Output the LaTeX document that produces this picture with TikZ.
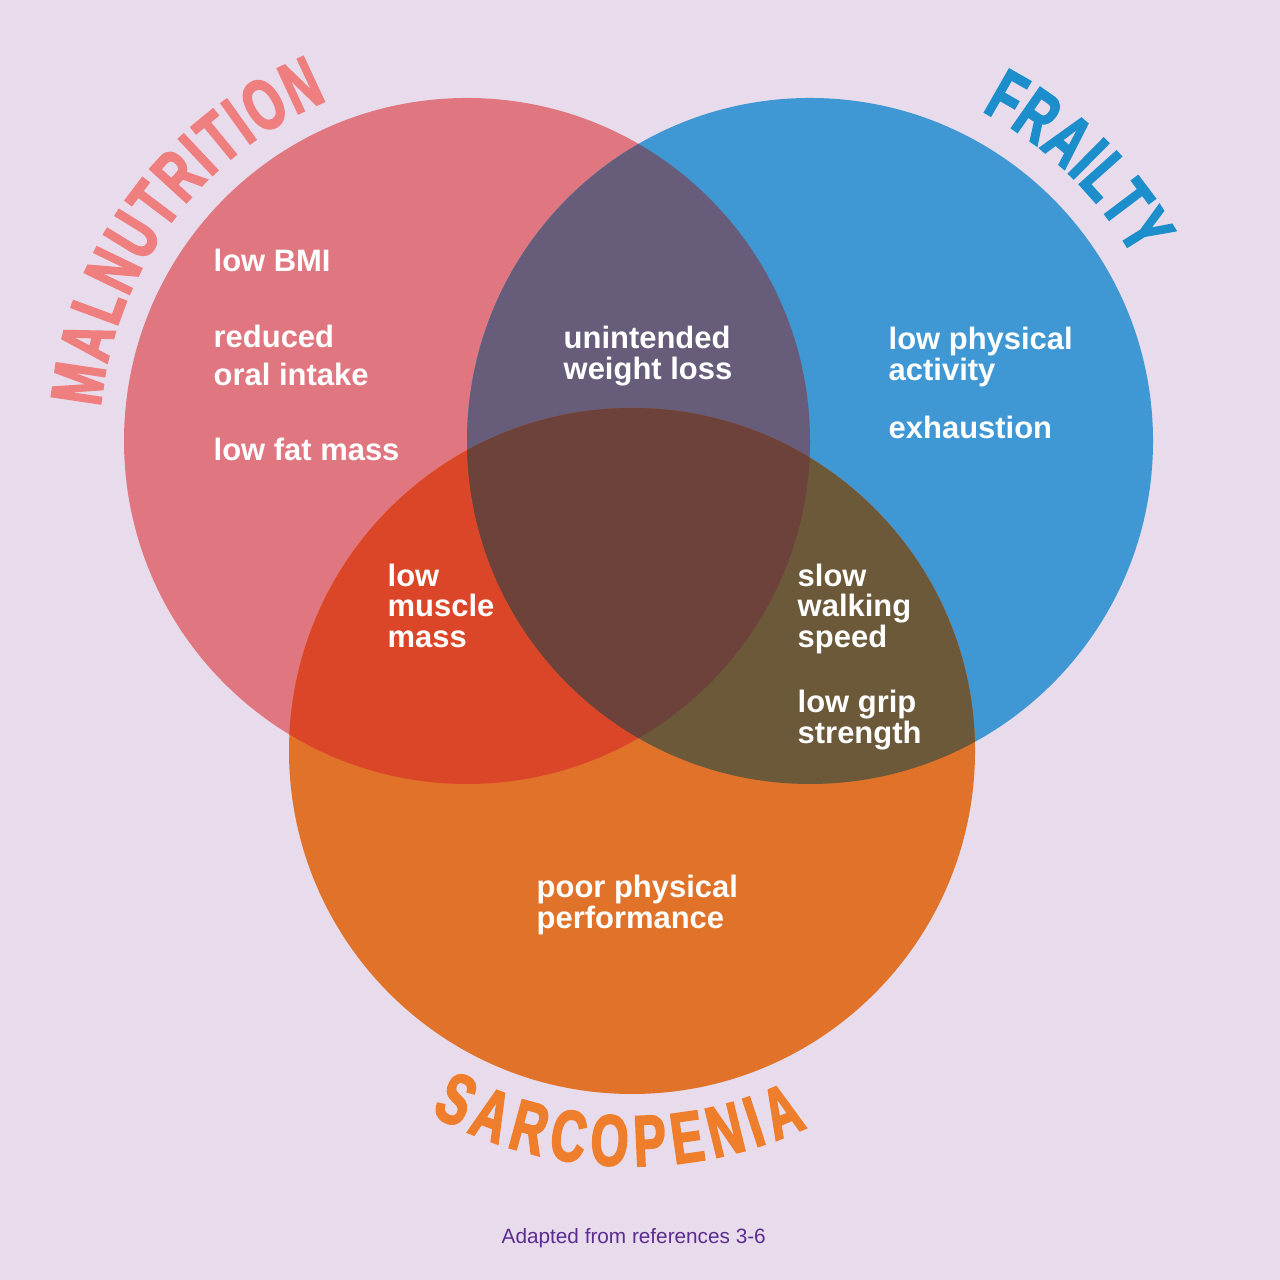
\documentclass[tikz,border=0pt]{standalone}
\usepackage{fontspec}
\setmainfont{Liberation Sans}
\newfontfamily\headfont[FakeStretch=0.67, FakeBold=2.6]{Liberation Sans Bold}
\usetikzlibrary{decorations.text}
\definecolor{PageLilac}{HTML}{E8DCEC}
\definecolor{MalFill}{HTML}{E07780}
\definecolor{FraFill}{HTML}{3F97D3}
\definecolor{SarFill}{HTML}{E07229}
\definecolor{MalFra}{HTML}{675D7B}
\definecolor{MalSar}{HTML}{DC4628}
\definecolor{FraSar}{HTML}{6B593A}
\definecolor{AllThree}{HTML}{6D423A}
\definecolor{MalHead}{HTML}{EF7E7E}
\definecolor{FraHead}{HTML}{1C8ECB}
\definecolor{SarHead}{HTML}{EE7E2B}
\definecolor{CreditPurple}{HTML}{5B2C8F}
\newcommand{\headtext}{\headfont\fontsize{20.5}{20.5}\selectfont}

\begin{document}
\begin{tikzpicture}[
    x=0.01cm, y=0.01cm,
    feature/.style={anchor=north west, inner sep=0pt, align=left, text=white, font=\bfseries\fontsize{8.8}{9}\selectfont},
    heading/.style={decorate, decoration={text along path, text align=fit to path, text color=#1}},
    credit/.style={anchor=north west, inner sep=0pt, text=CreditPurple, font=\fontsize{5.9}{7}\selectfont}
]

\fill[PageLilac] (0,0) rectangle (1280,1280);
\useasboundingbox (0,0) rectangle (1280,1280);

\coordinate (mal) at (467,839);
\coordinate (fra) at (810,839);
\coordinate (sar) at (632,529);

\fill[MalFill] (mal) circle (343);
\fill[FraFill] (fra) circle (343);
\fill[SarFill] (sar) circle (343);

\begin{scope}
  \clip (mal) circle (343);
  \fill[MalFra] (fra) circle (343);
  \fill[MalSar] (sar) circle (343);
\end{scope}
\begin{scope}
  \clip (fra) circle (343);
  \fill[FraSar] (sar) circle (343);
\end{scope}
\begin{scope}
  \clip (mal) circle (343);
  \clip (fra) circle (343);
  \fill[AllThree] (sar) circle (343);
\end{scope}

\path[heading=MalHead, decoration={text={|\headtext|MALNUTRITION}}]
  ([shift={(174.7:368)}]mal) arc[start angle=174.7, end angle=112.3, radius=368];
\path[heading=FraHead, decoration={text={|\headtext|FRAILTY}}]
  ([shift={(62.5:372)}]fra) arc[start angle=62.5, end angle=29.5, radius=372];
\path[heading=SarHead, decoration={text={|\headtext|SARCOPENIA}}]
  ([shift={(-119:415)}]sar) arc[start angle=-119, end angle=-65, radius=415];

\node[feature] (bmi) at (213,1032) {low BMI};
\node[feature] (intake) at (213,956) {reduced\\[2pt]oral intake};
\node[feature] (fat) at (213,843) {low fat mass};
\node[feature] (weight) at (563,955) {unintended\\weight loss};
\node[feature] (activity) at (888,954) {low physical\\activity};
\node[feature] (exhaust) at (888,865) {exhaustion};
\node[feature] (muscle) at (387,717) {low\\[-0.3pt]muscle\\[-0.3pt]mass};
\node[feature] (walking) at (797,717) {slow\\[-0.3pt]walking\\[-0.3pt]speed};
\node[feature] (grip) at (797,591) {low grip\\strength};
\node[feature] (perform) at (536,406) {poor physical\\performance};

\node[credit] (refs) at (501,52) {Adapted from references 3-6};

\end{tikzpicture}
\end{document}
